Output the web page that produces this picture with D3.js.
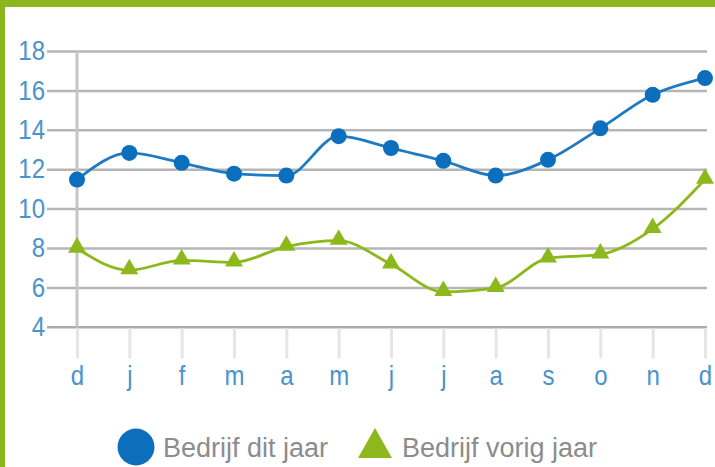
<!DOCTYPE html>
<html>
<head>
<meta charset="utf-8">
<script src="https://cdn.jsdelivr.net/npm/d3@7"></script>
<style>
  html, body { margin: 0; padding: 0; background: #fff; }
  svg { display: block; font-family: "Liberation Sans", Arial, sans-serif; }
</style>
</head>
<body>
<svg id="chart" width="715" height="467"></svg>
<script>
// Months, December of last year through December of this year
const months = ["d", "j", "f", "m", "a", "m", "j", "j", "a", "s", "o", "n", "d"];
const thisYear = [11.5, 12.85, 12.35, 11.8, 11.7, 13.7, 13.1, 12.45, 11.7, 12.5, 14.1, 15.8, 16.65];
const lastYear = [8.0, 6.9, 7.4, 7.3, 8.1, 8.4, 7.2, 5.8, 6.0, 7.5, 7.7, 9.0, 11.5];
const yTicks = [4, 6, 8, 10, 12, 14, 16, 18];
const seriesNames = ["Bedrijf dit jaar", "Bedrijf vorig jaar"];

const blue = "#0b6fbd";
const green = "#8cb81c";
const frame = "#8bb61d";
const labelStretch = 1.15;

const svg = d3.select("#chart");
svg.append("rect").attr("width", 715).attr("height", 467).attr("fill", "#fff");

const x = d3.scalePoint().domain(d3.range(months.length)).range([77, 705]);
const y = d3.scaleLinear().domain([4, 18]).range([327.3, 51.5]);

// value axis labels
const yAxis = d3.axisLeft(y).tickValues(yTicks).tickSize(0).tickPadding(0);
const gy = svg.append("g").attr("transform", "translate(47,0)");
gy.call(yAxis);
gy.select(".domain").remove();
gy.selectAll(".tick line").remove();
gy.selectAll(".tick text")
  .attr("x", -2).attr("y", 0).attr("dy", "0.3em")
  .attr("transform", `scale(1,${labelStretch})`)
  .attr("font-size", 24).attr("fill", "#4a93cc")
  .attr("font-family", "Liberation Sans, Arial, sans-serif");

// horizontal grid
svg.append("g").selectAll("line").data(yTicks).join("line")
  .attr("x1", 47).attr("x2", 707)
  .attr("y1", d => y(d)).attr("y2", d => y(d))
  .attr("stroke", d => d === 4 ? "#acacac" : "#b6b6b6")
  .attr("stroke-width", 2.5);

// category axis
const xAxis = d3.axisBottom(x).tickFormat(i => months[i]).tickSize(30).tickPadding(3);
const gx = svg.append("g").attr("transform", `translate(0,${y(4) + 1})`);
gx.call(xAxis);
gx.select(".domain").remove();
gx.selectAll(".tick line").attr("stroke", "#e6e6e6").attr("stroke-width", 3);
gx.selectAll(".tick text")
  .attr("y", 57 / labelStretch).attr("dy", 0)
  .attr("transform", `scale(1,${labelStretch})`)
  .attr("font-size", 24).attr("fill", "#4a93cc")
  .attr("font-family", "Liberation Sans, Arial, sans-serif");

// vertical axis line
svg.append("line")
  .attr("x1", x(0)).attr("x2", x(0))
  .attr("y1", y(18) + 1).attr("y2", y(4))
  .attr("stroke", "#c6c6c6").attr("stroke-width", 3);

const line = d3.line()
  .x((d, i) => x(i))
  .y(d => y(d))
  .curve(d3.curveMonotoneX);

// last year (triangles)
svg.append("path").datum(lastYear)
  .attr("d", line).attr("fill", "none")
  .attr("stroke", green).attr("stroke-width", 2.8);

const tri = d3.symbol().type(d3.symbolTriangle).size(140);
svg.append("g").selectAll("path").data(lastYear).join("path")
  .attr("d", tri)
  .attr("transform", (d, i) => `translate(${x(i)},${y(d) - 1})`)
  .attr("fill", green);

// this year (circles)
svg.append("path").datum(thisYear)
  .attr("d", line).attr("fill", "none")
  .attr("stroke", "#1e7ac3").attr("stroke-width", 2.8);

svg.append("g").selectAll("circle").data(thisYear).join("circle")
  .attr("cx", (d, i) => x(i)).attr("cy", d => y(d))
  .attr("r", 8).attr("fill", blue);

// legend
const legend = svg.append("g");
legend.append("circle").attr("cx", 136).attr("cy", 447).attr("r", 18.5).attr("fill", blue);
legend.append("text").attr("x", 163).attr("y", 457)
  .attr("font-size", 27).attr("fill", "#8c8c8c").text(seriesNames[0]);
legend.append("path")
  .attr("d", `M375,428 L392,458 L358,458 Z`)
  .attr("fill", green);
legend.append("text").attr("x", 402).attr("y", 457)
  .attr("font-size", 27).attr("fill", "#8c8c8c").text(seriesNames[1]);

// frame on top and left edges
svg.append("rect").attr("x", 0).attr("y", 0).attr("width", 715).attr("height", 7).attr("fill", frame);
svg.append("rect").attr("x", 0).attr("y", 0).attr("width", 5).attr("height", 467).attr("fill", frame);
</script>
</body>
</html>
